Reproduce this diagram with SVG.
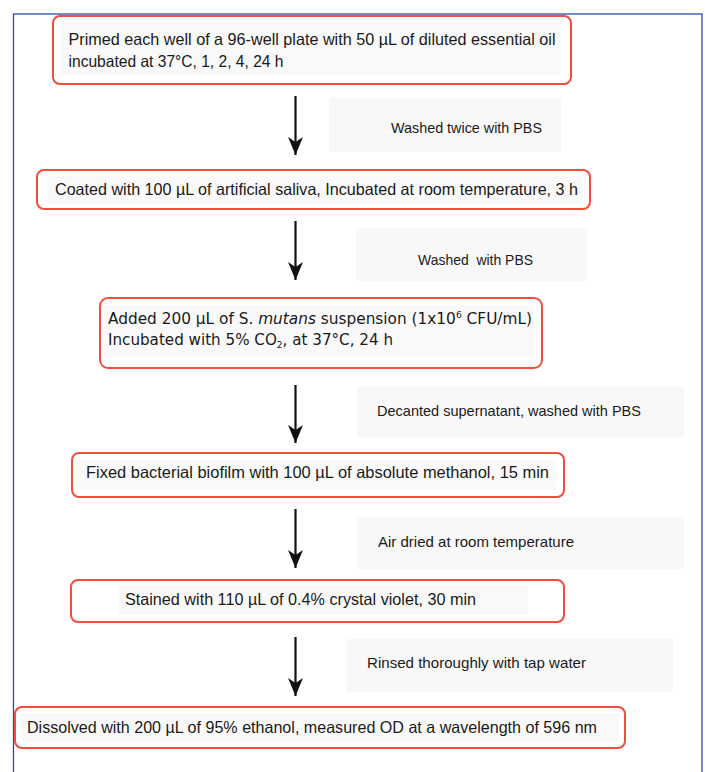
<svg xmlns="http://www.w3.org/2000/svg" width="705" height="772" viewBox="0 0 705 772">
<style>
.frame{fill:none;stroke:#2b4c9b;stroke-width:1.3}
.box{fill:#ffffff;stroke:#ef4f3d;stroke-width:2}
.tbg{fill:#f9f9f9}
.lbg{fill:#f8f8f8}
.t{font-family:"Liberation Sans",Arial,sans-serif;font-size:16.5px;fill:#1a1a1a}
.t3{font-family:"DejaVu Sans","Liberation Sans",sans-serif;font-size:15px;fill:#1a1a1a}
.l{font-family:"Liberation Sans",Arial,sans-serif;font-size:15px;fill:#1a1a1a}
.arr{stroke:#111;stroke-width:2.2;fill:none}
</style>
<defs>
<marker id="ah" viewBox="0 0 18 15" refX="18" refY="7.5" markerWidth="18" markerHeight="15" markerUnits="userSpaceOnUse" orient="auto">
<path d="M0,0 L18,7.5 L0,15 L5,7.5 z" fill="#111"/>
</marker>
</defs>
<rect width="705" height="772" fill="#ffffff"/>
<rect class="frame" x="13.5" y="14" width="688.5" height="770"/>

<g id="connectors">
<g id="c1"><rect class="lbg" x="329" y="98" width="232" height="54"/><line class="arr" x1="295.5" y1="96" x2="295.5" y2="155" marker-end="url(#ah)"/><text class="l" x="391" y="133" textLength="151" lengthAdjust="spacingAndGlyphs">Washed twice with PBS</text></g>
<g id="c2"><rect class="lbg" x="356" y="228" width="231" height="53"/><line class="arr" x1="295.5" y1="221" x2="295.5" y2="280" marker-end="url(#ah)"/><text class="l" x="418" y="265" textLength="115" lengthAdjust="spacingAndGlyphs" xml:space="preserve">Washed  with PBS</text></g>
<g id="c3"><rect class="lbg" x="357" y="386" width="327" height="52"/><line class="arr" x1="295.5" y1="385" x2="295.5" y2="443" marker-end="url(#ah)"/><text class="l" x="377" y="415.5" textLength="264" lengthAdjust="spacingAndGlyphs">Decanted supernatant, washed with PBS</text></g>
<g id="c4"><rect class="lbg" x="357" y="517" width="327" height="52"/><line class="arr" x1="295.5" y1="509" x2="295.5" y2="568" marker-end="url(#ah)"/><text class="l" x="378" y="547" textLength="196" lengthAdjust="spacingAndGlyphs">Air dried at room temperature</text></g>
<g id="c5"><rect class="lbg" x="346" y="639" width="327" height="53"/><line class="arr" x1="295.5" y1="637" x2="295.5" y2="696" marker-end="url(#ah)"/><text class="l" x="367" y="668" textLength="219" lengthAdjust="spacingAndGlyphs">Rinsed thoroughly with tap water</text></g>
</g>

<g id="n1">
<rect class="box" x="53" y="16" width="518" height="68" rx="7"/>
<rect class="tbg" x="61" y="23" width="500" height="52"/>
<text class="t" x="68.5" y="45" textLength="487" lengthAdjust="spacingAndGlyphs">Primed each well of a 96-well plate with 50 µL of diluted essential oil</text>
<text class="t" x="68.5" y="67" textLength="215" lengthAdjust="spacingAndGlyphs">incubated at 37°C, 1, 2, 4, 24 h</text>
</g>

<g id="n2">
<rect class="box" x="37" y="170" width="553" height="39" rx="7"/>
<rect class="tbg" x="48" y="176" width="535" height="28"/>
<text class="t" x="55" y="195" textLength="523" lengthAdjust="spacingAndGlyphs">Coated with 100 µL of artificial saliva, Incubated at room temperature, 3 h</text>
</g>

<g id="n3">
<rect class="box" x="100" y="298" width="442" height="70" rx="8"/>
<rect class="tbg" x="104" y="305" width="430" height="52"/>
<text class="t3" x="108" y="324" textLength="424" lengthAdjust="spacingAndGlyphs">Added 200 µL of S. <tspan font-style="italic">mutans</tspan> suspension (1x10<tspan dy="-6" font-size="9">6</tspan><tspan dy="6"> CFU/mL)</tspan></text>
<text class="t3" x="108" y="345" textLength="285" lengthAdjust="spacingAndGlyphs">Incubated with 5% CO<tspan dy="3" font-size="9">2</tspan><tspan dy="-3">, at 37°C, 24 h</tspan></text>
</g>

<g id="n4">
<rect class="box" x="72" y="453" width="492" height="44" rx="7"/>
<rect class="tbg" x="80" y="460" width="476" height="30"/>
<text class="t" x="86" y="478" textLength="463" lengthAdjust="spacingAndGlyphs">Fixed bacterial biofilm with 100 µL of absolute methanol, 15 min</text>
</g>

<g id="n5">
<rect class="box" x="71" y="580" width="493" height="42" rx="7"/>
<rect class="tbg" x="118" y="585" width="410" height="30"/>
<text class="t" x="125" y="605" textLength="351" lengthAdjust="spacingAndGlyphs">Stained with 110 µL of 0.4% crystal violet, 30 min</text>
</g>

<g id="n6">
<rect class="box" x="15" y="707" width="610" height="41" rx="7"/>
<rect class="tbg" x="21" y="713" width="598" height="29"/>
<text class="t" x="27" y="733" textLength="570" lengthAdjust="spacingAndGlyphs">Dissolved with 200 µL of 95% ethanol, measured OD at a wavelength of 596 nm</text>
</g>
</svg>
